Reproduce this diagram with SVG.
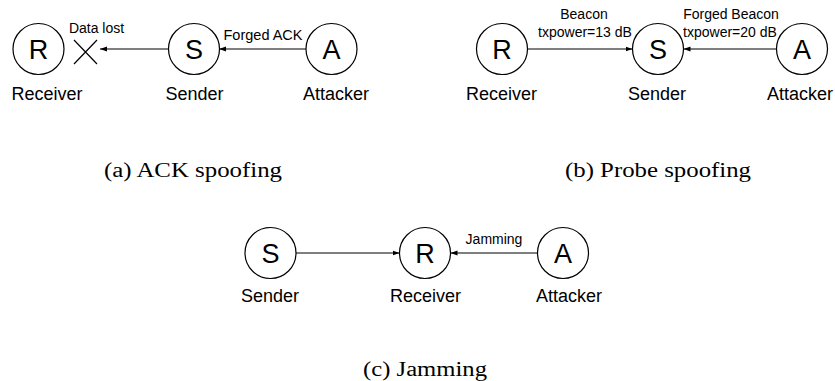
<svg xmlns="http://www.w3.org/2000/svg" width="835" height="381" viewBox="0 0 835 381">
<style>
.node circle{fill:#fff;stroke:#000;stroke-width:1.2}
.letter{font-family:"Liberation Sans",Arial,sans-serif;font-size:27px;text-anchor:middle;fill:#000}
.name{font-family:"Liberation Sans",Arial,sans-serif;font-size:18px;text-anchor:middle;fill:#000}
.lbl{font-family:"Liberation Sans",Arial,sans-serif;font-size:14px;text-anchor:middle;fill:#000}
.cap{font-family:"Liberation Serif","Times New Roman",serif;font-size:20px;fill:#000}
.edge{stroke:#000;stroke-width:1.2;fill:none}
</style>
<defs>
<marker id="ah" markerUnits="userSpaceOnUse" markerWidth="8" markerHeight="6" refX="7" refY="3" orient="auto">
<path d="M0,0.5 L7,3 L0,5.5 Z" fill="#000"/>
</marker>
</defs>
<rect width="835" height="381" fill="#fff"/>

<!-- Panel a -->
<g id="a-receiver" class="node"><circle cx="38.5" cy="49" r="25.5"/><text class="letter" x="38.5" y="58.5">R</text><text class="name" x="47" y="100">Receiver</text></g>
<g id="a-sender" class="node"><circle cx="194" cy="49" r="25.5"/><text class="letter" x="194" y="58.5">S</text><text class="name" x="194.5" y="100">Sender</text></g>
<g id="a-attacker" class="node"><circle cx="331.5" cy="49" r="25.5"/><text class="letter" x="331.5" y="58.5">A</text><text class="name" x="336" y="100">Attacker</text></g>
<g id="a-lost"><path class="edge" d="M74,40 L97,64 M74,64 L97,40"/><text class="lbl" x="96.5" y="33">Data lost</text></g>

<!-- Panel b -->
<g id="b-receiver" class="node"><circle cx="502" cy="49" r="25.5"/><text class="letter" x="502" y="58.5">R</text><text class="name" x="501.5" y="100">Receiver</text></g>
<g id="b-sender" class="node"><circle cx="658" cy="49" r="25.5"/><text class="letter" x="658" y="58.5">S</text><text class="name" x="657" y="100">Sender</text></g>
<g id="b-attacker" class="node"><circle cx="802" cy="49" r="25.5"/><text class="letter" x="802" y="58.5">A</text><text class="name" x="800" y="100">Attacker</text></g>

<!-- Panel c -->
<g id="c-sender" class="node"><circle cx="270.5" cy="253" r="25.5"/><text class="letter" x="270.5" y="262.5">S</text><text class="name" x="270" y="302">Sender</text></g>
<g id="c-receiver" class="node"><circle cx="425" cy="253" r="25.5"/><text class="letter" x="425" y="262.5">R</text><text class="name" x="425.5" y="302">Receiver</text></g>
<g id="c-attacker" class="node"><circle cx="563" cy="253" r="25.5"/><text class="letter" x="563" y="262.5">A</text><text class="name" x="569" y="302">Attacker</text></g>

<g id="connectors">
<line class="edge" x1="168.5" y1="49" x2="100" y2="49" marker-end="url(#ah)"/>
<line class="edge" x1="306" y1="49" x2="219" y2="49" marker-end="url(#ah)"/>
<line class="edge" x1="527.5" y1="49" x2="632.5" y2="49" marker-end="url(#ah)"/>
<line class="edge" x1="776.5" y1="49" x2="683.5" y2="49" marker-end="url(#ah)"/>
<line class="edge" x1="296" y1="253" x2="399.5" y2="253" marker-end="url(#ah)"/>
<line class="edge" x1="537.5" y1="253" x2="450.5" y2="253" marker-end="url(#ah)"/>
</g>

<g id="edge-labels">
<text class="lbl" x="263" y="40" style="font-size:14.5px">Forged ACK</text>
<text class="lbl" x="584" y="19">Beacon</text>
<text class="lbl" x="585" y="37">txpower=13 dB</text>
<text class="lbl" x="731" y="19">Forged Beacon</text>
<text class="lbl" x="730" y="37">txpower=20 dB</text>
<text class="lbl" x="494" y="244">Jamming</text>
</g>

<g id="captions">
<text class="cap" x="104" y="177" textLength="178" lengthAdjust="spacingAndGlyphs">(a)  ACK spoofing</text>
<text class="cap" x="565" y="177" textLength="186" lengthAdjust="spacingAndGlyphs">(b)  Probe spoofing</text>
<text class="cap" x="363" y="376" textLength="124" lengthAdjust="spacingAndGlyphs">(c)  Jamming</text>
</g>
</svg>
